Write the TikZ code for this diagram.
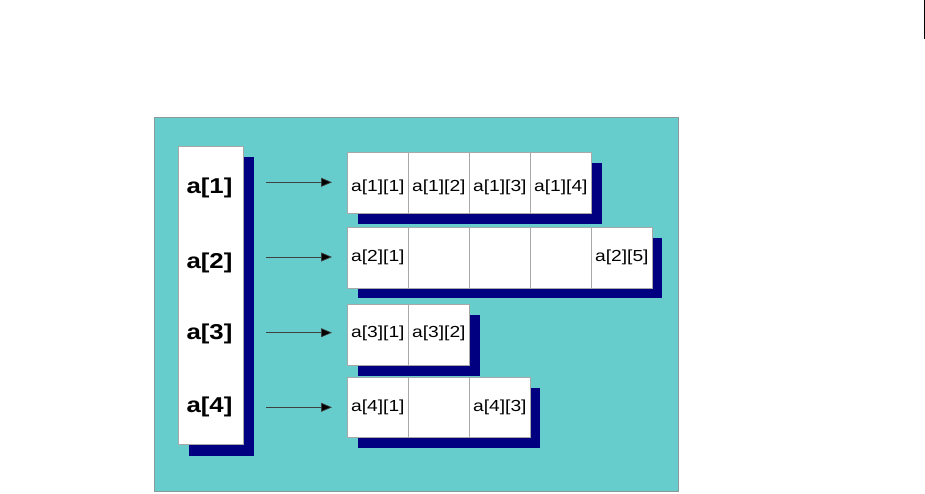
\documentclass[tikz,border=0pt]{standalone}
\usepackage{fontspec}
\setmainfont{Liberation Sans}
\usetikzlibrary{arrows.meta}
\definecolor{tealbg}{HTML}{66CDCC}
\definecolor{navyshadow}{HTML}{000080}
\definecolor{cellgray}{HTML}{A8A8A8}
\definecolor{framegray}{HTML}{8A9A9A}
\tikzset{
  shadowbox/.style={fill=navyshadow, draw=none},
  cellbox/.style={draw=cellgray, line width=0.8pt, fill=white, inner sep=0pt, anchor=north west, minimum width=61pt, minimum height=60.5pt},
  celltext/.style={inner sep=0pt, anchor=west, font=\fontsize{16}{16}\selectfont},
  rowlabel/.style={inner sep=0pt, font=\fontsize{21.5}{21.5}\selectfont\bfseries},
  ptr/.style={draw=black!75, line width=0.7pt, -{Triangle[length=11pt,width=9pt,fill=black]}}
}
\newcommand{\wide}[1]{\scalebox{1.2}[1]{#1}}
\begin{document}
\begin{tikzpicture}[x=1pt,y=-1pt]
\useasboundingbox (0,0) rectangle (925,494);
% stray mark top right
\draw[black, line width=1pt] (924,0) -- (924,39);
% background
\node[draw=framegray, line width=0.8pt, fill=tealbg, inner sep=0pt, anchor=north west, minimum width=524pt, minimum height=374pt] (bg) at (154,117) {};
% left column
\fill[shadowbox] (189,156.7) rectangle (254,455.7);
\node[draw=cellgray, line width=0.6pt, fill=white, inner sep=0pt, anchor=north west, minimum width=65.5pt, minimum height=298.5pt] (col) at (177.5,145.7) {};
\node[rowlabel] (l1) at (209.5,188) {\wide{a[1]}};
\node[rowlabel] (l2) at (209.5,262.5) {\wide{a[2]}};
\node[rowlabel] (l3) at (209.5,334) {\wide{a[3]}};
\node[rowlabel] (l4) at (209.5,407) {\wide{a[4]}};
% row shadows
\fill[shadowbox] (358,163.3) rectangle (601.7,224);
\fill[shadowbox] (358,238.3) rectangle (662.3,298.3);
\fill[shadowbox] (358,315.3) rectangle (479.7,376);
\fill[shadowbox] (358,387.7) rectangle (540.3,448.3);
% row 1
\node[cellbox] (c11) at (347,152.3) {};
\node[cellbox] (c12) at (408,152.3) {};
\node[cellbox] (c13) at (469,152.3) {};
\node[cellbox] (c14) at (530,152.3) {};
\node[celltext] (t11) at (351,187.5) {\wide{a[1][1]}};
\node[celltext] (t12) at (412,187.5) {\wide{a[1][2]}};
\node[celltext] (t13) at (473,187.5) {\wide{a[1][3]}};
\node[celltext] (t14) at (534,187.5) {\wide{a[1][4]}};
% row 2
\node[cellbox] (c21) at (347,227.3) {};
\node[cellbox] (c22) at (408,227.3) {};
\node[cellbox] (c23) at (469,227.3) {};
\node[cellbox] (c24) at (530,227.3) {};
\node[cellbox] (c25) at (591,227.3) {};
\node[celltext] (t21) at (351,257.5) {\wide{a[2][1]}};
\node[celltext] (t25) at (595,257.5) {\wide{a[2][5]}};
% row 3
\node[cellbox] (c31) at (347,304.3) {};
\node[cellbox] (c32) at (408,304.3) {};
\node[celltext] (t31) at (351,333) {\wide{a[3][1]}};
\node[celltext] (t32) at (412,333) {\wide{a[3][2]}};
% row 4
\node[cellbox] (c41) at (347,376.7) {};
\node[cellbox] (c42) at (408,376.7) {};
\node[cellbox] (c43) at (469,376.7) {};
\node[celltext] (t41) at (351,407) {\wide{a[4][1]}};
\node[celltext] (t43) at (473,407) {\wide{a[4][3]}};
% pointers
\coordinate (s1) at (266,182.3); \coordinate (e1) at (332,182.3);
\coordinate (s2) at (266,257);   \coordinate (e2) at (332,257);
\coordinate (s3) at (266,332.7); \coordinate (e3) at (332,332.7);
\coordinate (s4) at (266,407.3); \coordinate (e4) at (332,407.3);
\draw[ptr] (s1) -- (e1);
\draw[ptr] (s2) -- (e2);
\draw[ptr] (s3) -- (e3);
\draw[ptr] (s4) -- (e4);
\end{tikzpicture}
\end{document}
